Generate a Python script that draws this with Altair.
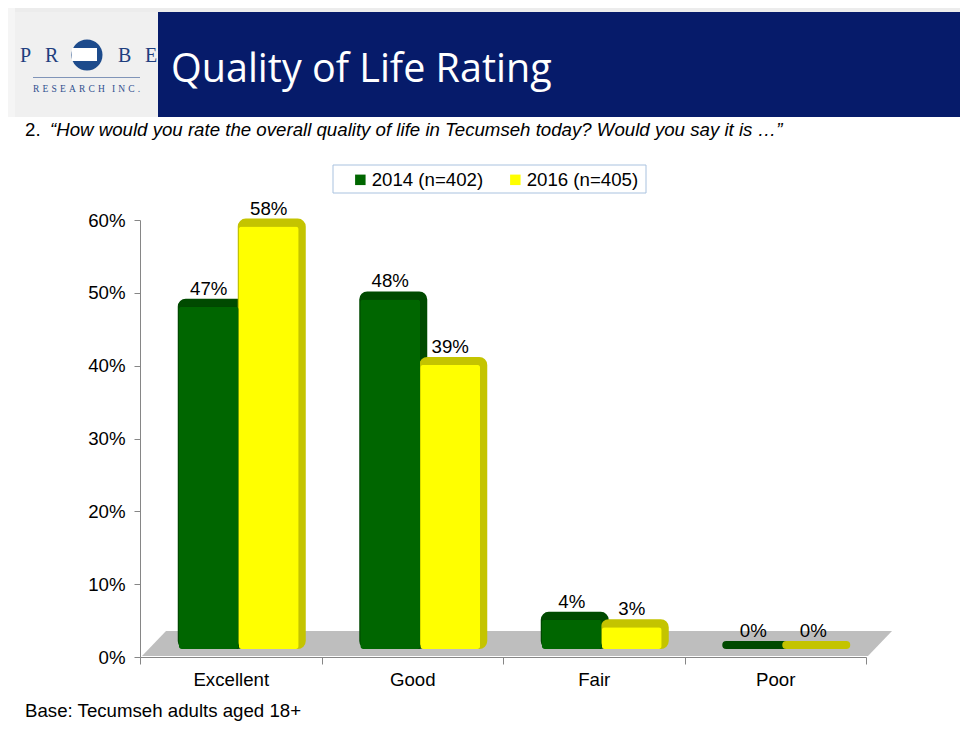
import altair as alt
import pandas as pd

# ---- data ----
categories = ["Excellent", "Good", "Fair", "Poor"]
series = ["2014 (n=402)", "2016 (n=405)"]
values_2014 = [47, 48, 4, 0]
values_2016 = [58, 39, 3, 0]
y_ticks = [0, 10, 20, 30, 40, 50, 60]

title_text = "Quality of Life Rating"
question_num = "2."
question_text = "\u201cHow would you rate the overall quality of life in Tecumseh today? Would you say it is \u2026\u201d"
base_text = "Base: Tecumseh adults aged 18+"

front_colors = ["#006600", "#ffff00"]
side_colors = ["#004a00", "#c4c400"]

rows = []
for s, vals in zip(series, [values_2014, values_2016]):
    for c, v in zip(categories, vals):
        rows.append({"category": c, "series": s, "value": v, "label": f"{v}%"})
df = pd.DataFrame(rows)
dummy = pd.DataFrame({"d": [0]})

W, H = 726, 437
Y_MAX = 60
PX_PER_UNIT = H / Y_MAX
FONT = "Liberation Sans"
FS = 18.67
AXIS_GREY = "#868686"

x_enc = alt.X(
    "category:N", sort=categories,
    scale=alt.Scale(paddingInner=0, paddingOuter=0),
    axis=alt.Axis(title=None, labelAngle=0, tickBand="extent", domainColor=AXIS_GREY,
                  tickColor=AXIS_GREY, tickSize=7, labelFontSize=FS, labelFont=FONT,
                  labelColor="black", labelPadding=6),
)
y_axis_enc = alt.Y(
    "value:Q",
    scale=alt.Scale(domain=[0, Y_MAX], nice=False),
    axis=alt.Axis(title=None, values=y_ticks, labelExpr="datum.value + '%'", grid=False,
                  domainColor=AXIS_GREY, tickColor=AXIS_GREY, tickSize=6,
                  labelFontSize=FS, labelFont=FONT, labelColor="black", labelPadding=9),
)


def y_shifted(px):
    # same scale as the axis, lifted by px pixels (3-D look: bars stand on the floor)
    d = px / PX_PER_UNIT
    return alt.Y("value:Q", scale=alt.Scale(domain=[-d, Y_MAX - d], nice=False), axis=None)


color_enc = alt.Color(
    "series:N",
    scale=alt.Scale(domain=series, range=front_colors),
    legend=alt.Legend(orient="none", legendX=211, legendY=-50, direction="horizontal",
                      title=None, symbolType="square", symbolSize=110, symbolStrokeWidth=0,
                      labelFontSize=FS, labelFont=FONT, labelColor="black",
                      columnPadding=22, labelOffset=2, padding=0),
)


def rect(x, x2, y, y2, **kw):
    return alt.Chart(dummy).mark_rect(**kw).encode(
        x=alt.value(x), x2=alt.value(x2), y=alt.value(y), y2=alt.value(y2))


def label(text, x, y, **kw):
    return alt.Chart(dummy).mark_text(text=text, align="left", baseline="alphabetic", **kw).encode(
        x=alt.value(x), y=alt.value(y))


# ---- header decorations (pixel positions relative to the plot origin) ----
frame_top = rect(-132, 820, -212, -208, color="#ececec")
frame_left = rect(-132, -125, -212, -103, color="#f5f5f5")
logo_bg = rect(-125, 18, -208, -103, color="#f0f0f0")
banner = rect(18, 830, -208, -103, color="#061b6a")
title = label(title_text, 31, -138, font="Open Sans", fontSize=39.5, color="white")
logo_letters = alt.layer(*[
    label(t, px, -158, font="Liberation Serif", fontSize=20, color="#1f3f7f")
    for t, px in [("P", -120), ("R", -95), ("B", -22), ("E", 5)]
])
logo_circle = alt.Chart(dummy).mark_point(shape="circle", filled=True, size=961, opacity=1,
                                          color="#1d4b8c").encode(x=alt.value(-53), y=alt.value(-165))
logo_band = rect(-68, -43, -172, -159, color="white")
logo_line = rect(-107, 0, -143, -142, color="#8094b8")
GAP = "\u00a0\u200a"
logo_sub = label(GAP.join("RESEARCH") + "\u00a0" * 3 + GAP.join("INC."), -107, -128,
                 font="Liberation Serif", fontSize=9.5, color="#2f4f8f")

q_num = label(question_num, -115, -84, font=FONT, fontSize=FS, color="black")
q_text = label(question_text, -90, -84, font=FONT, fontSize=FS, fontStyle="italic", color="black")
base = label(base_text, -115, 497, font=FONT, fontSize=FS, color="black")

legend_box = rect(193, 506, -55, -27, fill="white", stroke="#a9c2df", strokeWidth=1)

floor_path = "M -1 0.0333 L 0.936 0.0333 L 1 -0.0333 L -0.936 -0.0333 Z"
floor = alt.Chart(dummy).mark_point(shape=floor_path, filled=True, size=562500, opacity=1,
                                    color="#bebebe").encode(x=alt.value(377), y=alt.value(423.5))

# invisible layer that carries the visible y axis
axis_layer = alt.Chart(df).mark_point(opacity=0).encode(x=x_enc, y=y_axis_enc)

# ---- bars ----
offsets = [-22, 38]
back_layers, front_layers, text_layers = [], [], []
for i, s in enumerate(series):
    base_chart = alt.Chart(df).transform_filter(alt.datum.series == s)
    back_layers.append(base_chart.mark_bar(
        width=60, xOffset=offsets[i] + 3, cornerRadius=4,
        color=side_colors[i], stroke=side_colors[i], strokeWidth=8, strokeJoin="round",
    ).encode(x=x_enc, y=y_shifted(12)))
    front_layers.append(base_chart.mark_bar(
        width=60, xOffset=offsets[i], cornerRadius=3,
    ).encode(x=x_enc, y=y_shifted(8), color=color_enc))
    text_layers.append(base_chart.mark_text(
        baseline="bottom", fontSize=FS, font=FONT, color="black",
        xOffset=offsets[i], dy=-8,
    ).encode(x=x_enc, y=y_shifted(8), text="label:N"))

chart = alt.layer(
    frame_top, frame_left, logo_bg, banner, title, logo_circle, logo_band, logo_letters,
    logo_line, logo_sub, q_num, q_text, base, legend_box, floor, axis_layer,
    *back_layers, *front_layers, *text_layers,
).resolve_scale(y="independent").properties(
    width=W, height=H,
    padding={"left": 132, "top": 212, "right": 94, "bottom": 65},
    autosize=alt.AutoSizeParams(type="none"),
).configure_view(strokeWidth=0)

chart.save("out.html", embed_options={"renderer": "svg", "actions": False})
